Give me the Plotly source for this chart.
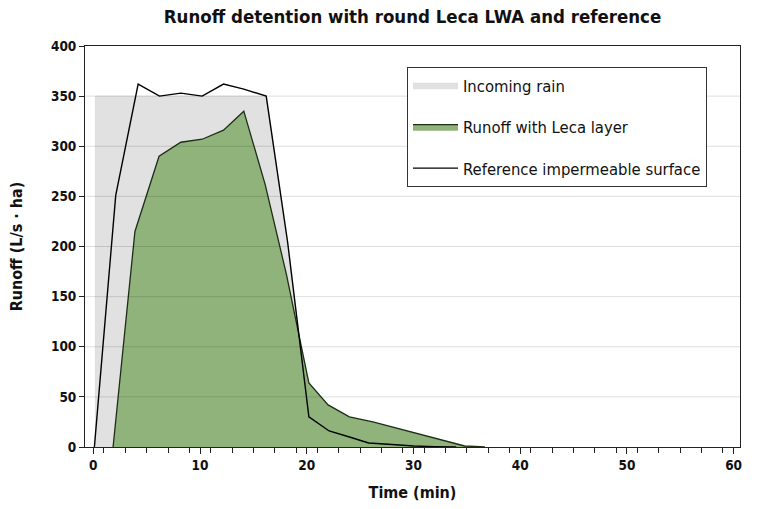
import plotly.graph_objects as go

# ---- data ----
rain_t = [0.2, 0.2, 16.2, 18.2, 20.2, 20.2]
rain_v = [0, 350, 350, 205, 30, 0]

leca_t = [1.85, 3.9, 6.16, 8.2, 10.2, 12.2, 14.1, 16.1, 18.1, 20.2, 22.0, 24.0, 26.2, 29.0, 32.5, 34.8, 36.7]
leca_v = [0, 215, 290, 304, 307, 316, 335, 262, 172, 64, 42, 30, 25, 17, 7, 1, 0]

ref_t = [0.1, 2.1, 4.2, 6.2, 8.2, 10.2, 12.2, 14.1, 16.2, 18.2, 20.2, 22.1, 24.0, 25.8, 28.0, 30.0, 32.0, 34.0]
ref_v = [0, 251, 362, 350, 353, 350, 362, 357, 350, 205, 30, 16, 10, 4, 2.5, 1, 0.3, 0]

y_ticks = [0, 50, 100, 150, 200, 250, 300, 350, 400]
x_ticks = [0, 10, 20, 30, 40, 50, 60]

FONT = "DejaVu Sans Condensed"

fig = go.Figure()
fig.add_trace(go.Scatter(
    x=rain_t, y=rain_v, mode="lines", fill="toself",
    fillcolor="#e1e1e1", line=dict(width=0.6, color="#d4d4d4"),
    name="Incoming rain", legendgroup="a", hoverinfo="skip"))
fig.add_trace(go.Scatter(
    x=leca_t, y=leca_v, mode="lines", fill="tozeroy",
    fillcolor="#8fb37a", line=dict(width=1.3, color="#1e2d17"),
    name="Runoff with Leca layer", legendgroup="b"))
fig.add_trace(go.Scatter(
    x=ref_t, y=ref_v, mode="lines",
    line=dict(width=1.4, color="#000000"),
    name="Reference impermeable surface", legendgroup="c"))

for v in y_ticks[1:-1]:
    fig.add_shape(type="line", xref="paper", x0=0, x1=1, yref="y", y0=v, y1=v,
                  line=dict(color="rgba(0,0,0,0.13)", width=1), layer="above")

fig.update_layout(
    width=765, height=509,
    margin=dict(l=85, r=25, t=46, b=62),
    paper_bgcolor="white", plot_bgcolor="white",
    font=dict(family=FONT, color="#111111"),
    title=dict(text="<b>Runoff detention with round Leca LWA and reference</b>",
               x=0.5, xref="paper", xanchor="center", y=1 - 17 / 509, yanchor="middle",
               font=dict(size=18.5, family=FONT, color="#111111")),
    showlegend=True,
    legend=dict(x=0.4916, y=0.9476, xanchor="left", yanchor="top",
                bgcolor="white", bordercolor="#333333", borderwidth=1,
                font=dict(size=16.5, family=FONT, color="#111111"),
                tracegroupgap=17, itemwidth=45, traceorder="grouped",
                entrywidth=252, entrywidthmode="pixels"),
    xaxis=dict(range=[-0.78, 60.6], tickvals=x_ticks, ticktext=[str(t) for t in x_ticks],
               showgrid=False, zeroline=False, showline=True, linecolor="#222222", linewidth=1,
               mirror=True, ticks="outside", ticklen=6, tickcolor="#222222",
               minor=dict(tick0=1, dtick=2, ticks="outside", ticklen=5, tickcolor="#222222", showgrid=False),
               tickfont=dict(size=13.5, family=FONT, color="#111111", weight="bold"),
               title=dict(text="<b>Time (min)</b>", font=dict(size=16, family=FONT, color="#111111"), standoff=14)),
    yaxis=dict(range=[0, 400], tickvals=y_ticks, ticktext=[str(t) for t in y_ticks],
               showgrid=False, zeroline=False, showline=True, linecolor="#222222", linewidth=1,
               mirror=True, ticks="outside", ticklen=5, tickcolor="#222222",
               tickfont=dict(size=13.5, family=FONT, color="#111111", weight="bold"),
               title=dict(text="<b>Runoff (L/s · ha)</b>", font=dict(size=16, family=FONT, color="#111111"), standoff=24)),
)

fig.write_html("out.html")
